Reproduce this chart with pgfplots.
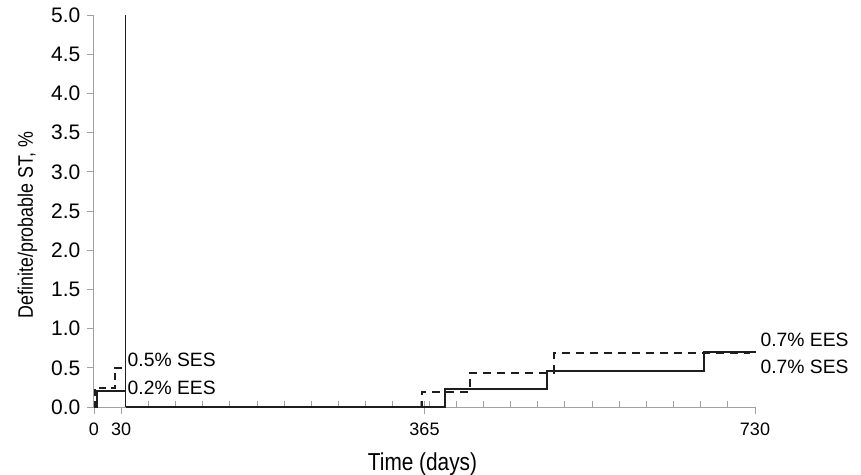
\documentclass[border=0pt]{standalone}
\usepackage{fontspec}
\setmainfont{Liberation Sans}
\newfontfamily\narrowfont[FakeStretch=0.85]{Liberation Sans}
\usepackage{pgfplots}
\pgfplotsset{compat=1.18}
\definecolor{axgray}{RGB}{160,160,160}
\definecolor{ln}{RGB}{30,30,30}
\begin{document}
\fontsize{19.3}{22}\selectfont
\begin{tikzpicture}
\useasboundingbox (-94pt,-67pt) rectangle (767pt,407pt);
\begin{axis}[
  scale only axis, width=661pt, height=392pt,
  xmin=0, xmax=730, ymin=0, ymax=5,
  axis x line=bottom, axis y line=left,
  axis line style={axgray, line width=1pt, -},
  xtick={0,30,365,730},
  xticklabels={0,30,365,730},
  extra x ticks={60,90,120,150,180,210,240,270,300,330,360,365,370,400,430,460,490,520,550,580,610,640,670,700},
  extra x tick labels={},
  extra x tick style={xtick align=inside, major tick length=6pt},
  x tick style={axgray, line width=0.8pt},
  y tick style={axgray, line width=0.8pt},
  xtick align=outside, ytick align=outside, major tick length=7pt,
  ytick={0,0.5,...,5},
  yticklabel style={font=\fontsize{21}{24}\selectfont, /pgf/number format/.cd, fixed, fixed zerofill, precision=1},
  xticklabel style={font=\fontsize{18}{21}\selectfont, yshift=-2pt},
  /pgf/number format/assume math mode=true,
  ylabel={\narrowfont\fontsize{21}{24}\selectfont Definite/probable ST, \%},
  ylabel style={at={(axis description cs:-0.0923,0.464)}, anchor=base},
  xlabel={\narrowfont\fontsize{24.5}{28}\selectfont Time (days)},
  xlabel style={at={(axis description cs:0.497,-0.1607)}, anchor=base},
  clip=false,
]
% landmark line
\addplot[ln, line width=1.5pt] coordinates {(35,0) (35,5)};
% EES (solid) first 30 days
\addplot[const plot, ln, line width=2pt] coordinates {(0,0) (3,0.2) (35,0.2)};
% SES (dashed) first 30 days
\addplot[const plot, ln, line width=2pt, dash pattern=on 7pt off 5pt] coordinates {(0,0) (1.5,0.24) (23,0.5) (35,0.5)};
% EES (solid) landmark
\addplot[const plot, ln, line width=2pt] coordinates {(35,0) (388,0.23) (500,0.46) (674,0.70) (731,0.70)};
% SES (dashed) landmark
\addplot[const plot, ln, line width=2pt, dash pattern=on 8pt off 6pt] coordinates {(35,0) (362,0.195) (415,0.44) (508,0.69) (725,0.69)};
\node[anchor=base west, inner sep=0pt] at (axis cs:37,0.517) {0.5\% SES};
\node[anchor=base west, inner sep=0pt] at (axis cs:37,0.157) {0.2\% EES};
\node[anchor=base west, inner sep=0pt] at (axis cs:736,0.772) {0.7\% EES};
\node[anchor=base west, inner sep=0pt] at (axis cs:736,0.427) {0.7\% SES};
\end{axis}
\end{tikzpicture}
\end{document}
